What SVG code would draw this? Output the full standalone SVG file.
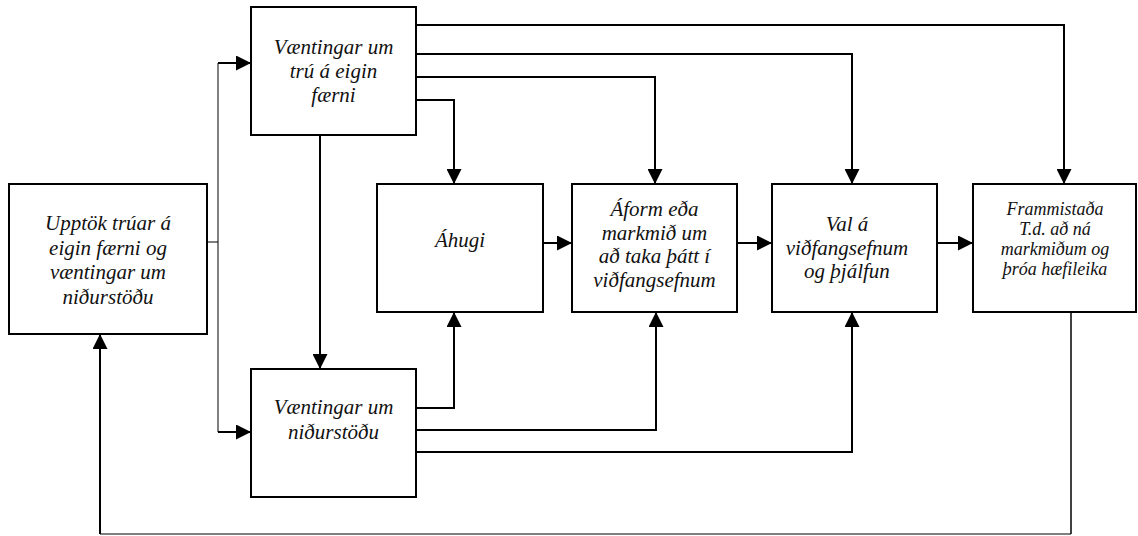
<svg xmlns="http://www.w3.org/2000/svg" width="1138" height="536" viewBox="0 0 1138 536">
<style>
.box{fill:#fff;stroke:#000;stroke-width:2}
.t{font-style:italic;font-size:21px;fill:#111;text-anchor:middle}
.ts{font-size:18px}
.c{fill:none;stroke:#000;stroke-width:2}
.thin{fill:none;stroke:#000;stroke-width:1}
</style>
<defs>
<marker id="ah" viewBox="0 0 10 10" refX="10" refY="5" markerWidth="15" markerHeight="15" markerUnits="userSpaceOnUse" orient="auto">
<path d="M0,0 L10,5 L0,10 z" fill="#000"/>
</marker>
</defs>
<rect width="1138" height="536" fill="#fff"/>
<g id="connectors">
<path class="thin" d="M207,242 H218"/>
<path class="thin" d="M218,63 V432"/>
<path class="c" d="M218,63 H251" marker-end="url(#ah)"/>
<path class="c" d="M218,432 H251" marker-end="url(#ah)"/>
<path class="c" d="M320,135 V369" marker-end="url(#ah)"/>
<path class="c" d="M416,25 H1064 V184" marker-end="url(#ah)"/>
<path class="c" d="M416,54 H852 V184" marker-end="url(#ah)"/>
<path class="c" d="M416,77 H655 V184" marker-end="url(#ah)"/>
<path class="c" d="M416,100 H454 V184" marker-end="url(#ah)"/>
<path class="c" d="M416,408 H454 V312" marker-end="url(#ah)"/>
<path class="c" d="M416,430 H656 V312" marker-end="url(#ah)"/>
<path class="c" d="M416,452 H852 V312" marker-end="url(#ah)"/>
<path class="c" d="M543,243 H572" marker-end="url(#ah)"/>
<path class="c" d="M737,243 H772" marker-end="url(#ah)"/>
<path class="c" d="M937,243 H973" marker-end="url(#ah)"/>
<path class="thin" style="stroke-width:1.5" d="M1071,312 V534"/>
<path class="thin" d="M1071,534 H100"/>
<path class="c" d="M100,534 V334" marker-end="url(#ah)"/>
</g>
<g font-family="Liberation Serif, Times New Roman, DejaVu Serif, serif">
<g id="n-upptok">
<rect class="box" x="9" y="184" width="198" height="150"/>
<text class="t" x="108" y="230">Upptök trúar á</text>
<text class="t" x="108" y="254.5">eigin færni og</text>
<text class="t" x="108" y="279">væntingar um</text>
<text class="t" x="108" y="303.5">niðurstöðu</text>
</g>
<g id="n-vaentingar-tru">
<rect class="box" x="251" y="7" width="165" height="128"/>
<text class="t" x="333.5" y="54">Væntingar um</text>
<text class="t" x="333.5" y="78">trú á eigin</text>
<text class="t" x="333.5" y="102">færni</text>
</g>
<g id="n-vaentingar-nidurstodu">
<rect class="box" x="251" y="369" width="165" height="128"/>
<text class="t" x="333.5" y="414">Væntingar um</text>
<text class="t" x="333.5" y="439">niðurstöðu</text>
</g>
<g id="n-ahugi">
<rect class="box" x="377" y="184" width="166" height="128"/>
<text class="t" x="460" y="247">Áhugi</text>
</g>
<g id="n-aform">
<rect class="box" x="572" y="184" width="165" height="128"/>
<text class="t" x="654.5" y="216">Áform eða</text>
<text class="t" x="654.5" y="240">markmið um</text>
<text class="t" x="654.5" y="263">að taka þátt í</text>
<text class="t" x="654.5" y="287">viðfangsefnum</text>
</g>
<g id="n-val">
<rect class="box" x="772" y="184" width="165" height="128"/>
<text class="t" x="847" y="231">Val á</text>
<text class="t" x="847" y="255">viðfangsefnum</text>
<text class="t" x="847" y="278">og þjálfun</text>
</g>
<g id="n-frammistada">
<rect class="box" x="973" y="184" width="163" height="128"/>
<text class="t ts" x="1055" y="215">Frammistaða</text>
<text class="t ts" x="1055" y="235">T.d. að ná</text>
<text class="t ts" x="1055" y="255">markmiðum og</text>
<text class="t ts" x="1055" y="275">þróa hæfileika</text>
</g>
</g>
</svg>
